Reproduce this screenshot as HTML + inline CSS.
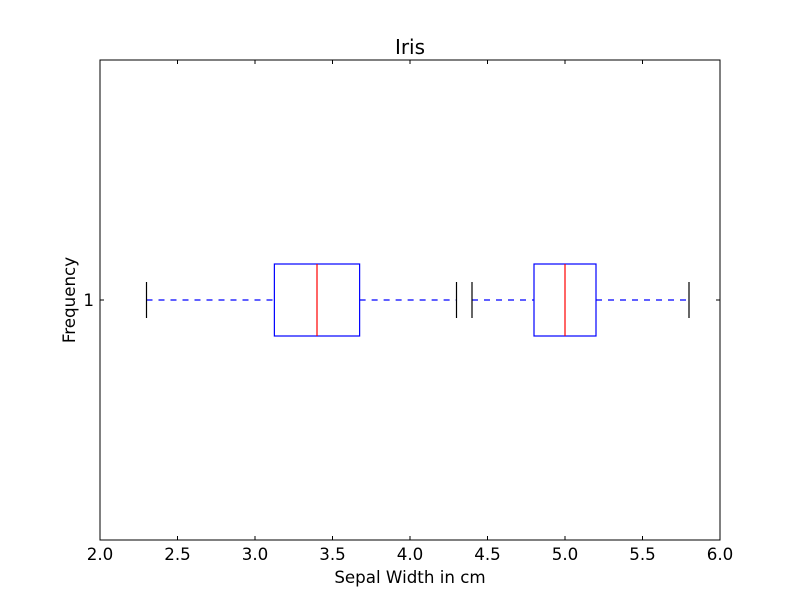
<!DOCTYPE html>
<html><head><meta charset="utf-8"><style>
body{margin:0;background:#fff;}
svg{display:block;font-family:"DejaVu Sans","Liberation Sans",sans-serif;}
</style></head><body>
<svg id="c" width="800" height="600"></svg>
<script>
const categories=["Iris-A","Iris-B"];
const whiskerLow=[2.3,4.4];
const q1=[3.125,4.8];
const medians=[3.4,5.0];
const q3=[3.675,5.2];
const whiskerHigh=[4.3,5.8];
const xTicks=[2.0,2.5,3.0,3.5,4.0,4.5,5.0,5.5,6.0];
const yTicks=[1];

const L=100,R=720,T=60,B=540;
const xs=v=>L+(v-2)/4*(R-L);
const ys=v=>T+(v-0.5)/1*(B-T);
const NS="http://www.w3.org/2000/svg";
const svg=document.getElementById('c');
function mk(t,a,p){const e=document.createElementNS(NS,t);for(const k in a)e.setAttribute(k,a[k]);(p||svg).appendChild(e);return e;}

for(let i=0;i<categories.length;i++){
  const g=mk('g',{});
  
  
  const yc=ys(1),hh=36,ch=18;
  let w1=mk('line',{x1:xs(whiskerLow[i]),x2:xs(q1[i]),y1:yc,y2:yc,stroke:'#0000ff','stroke-dasharray':'6,6','stroke-width':1.2},g);
  
  
  let w2=mk('line',{x1:xs(q3[i]),x2:xs(whiskerHigh[i]),y1:yc,y2:yc,stroke:'#0000ff','stroke-dasharray':'6,6','stroke-width':1.2},g);
  
  
  let c1=mk('line',{x1:xs(whiskerLow[i]),x2:xs(whiskerLow[i]),y1:yc-ch,y2:yc+ch,stroke:'#000','stroke-width':1.2},g);
  
  
  let c2=mk('line',{x1:xs(whiskerHigh[i]),x2:xs(whiskerHigh[i]),y1:yc-ch,y2:yc+ch,stroke:'#000','stroke-width':1.2},g);
  
  
  let bx=mk('rect',{x:xs(q1[i]),y:yc-hh,width:xs(q3[i])-xs(q1[i]),height:2*hh,fill:'none',stroke:'#0000ff','stroke-width':1.2},g);
  
  
  let md=mk('line',{x1:xs(medians[i]),x2:xs(medians[i]),y1:yc-hh,y2:yc+hh,stroke:'#ff0000','stroke-width':1.2},g);
  
  
}

const frame=mk('rect',{x:L,y:T,width:R-L,height:B-T,fill:'none',stroke:'#000','stroke-width':1});



xTicks.forEach(v=>{
  const x=xs(v);
  mk('line',{x1:x,x2:x,y1:B,y2:B-4,stroke:'#000'});
  mk('line',{x1:x,x2:x,y1:T,y2:T+4,stroke:'#000'});
  const t=mk('text',{x:x,y:B+20,'text-anchor':'middle','font-size':16.7});
  t.textContent=v.toFixed(1);
  
  
});
yTicks.forEach(v=>{
  const y=ys(v);
  mk('line',{x1:L,x2:L+4,y1:y,y2:y,stroke:'#000'});
  mk('line',{x1:R,x2:R-4,y1:y,y2:y,stroke:'#000'});
  const t=mk('text',{x:L-6,y:y+6,'text-anchor':'end','font-size':16.7});
  t.textContent=String(v);
  
  
});
</script>
<div style="position:absolute;left:0;top:0;width:800px;height:600px;pointer-events:none;font-family:'DejaVu Sans','Liberation Sans',sans-serif;">
  <div style="position:absolute;left:0;width:820px;top:35px;text-align:center;font-size:20px;line-height:24px;">Iris</div>
  <div style="position:absolute;left:0;width:820px;top:567px;text-align:center;font-size:16.7px;line-height:20px;">Sepal Width in cm</div>
  <div style="position:absolute;left:69px;top:300px;transform:translate(-50%,-50%) rotate(-90deg);font-size:16.7px;line-height:20px;white-space:nowrap;">Frequency</div>
</div>
</body></html>
